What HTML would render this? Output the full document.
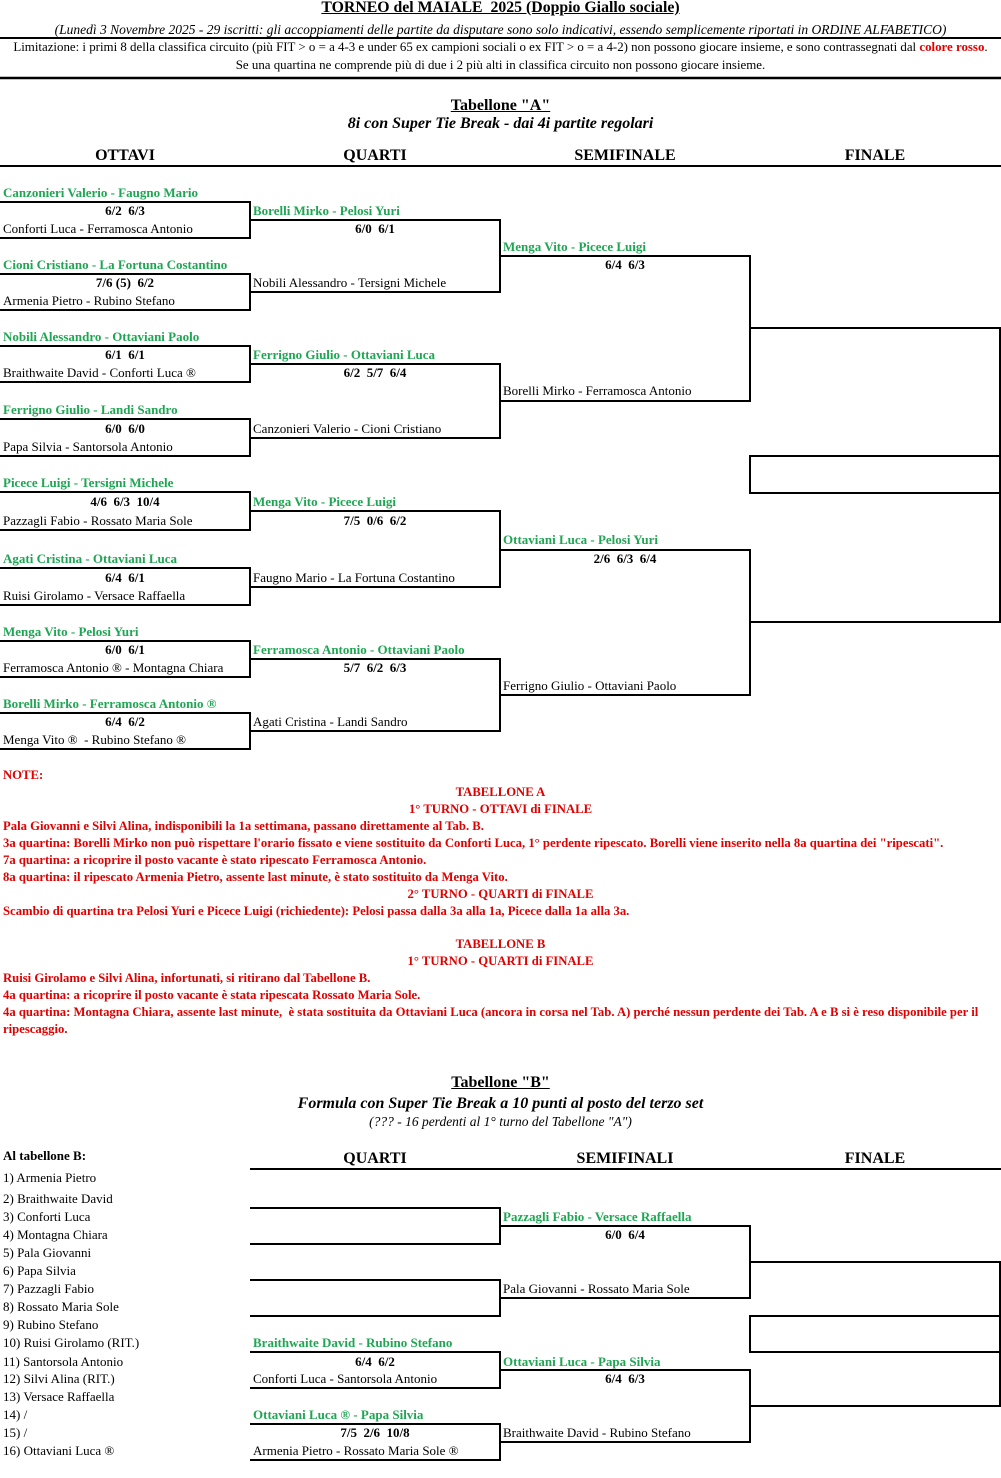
<!DOCTYPE html>
<html><head><meta charset="utf-8"><style>
body{margin:0;background:#fff;}
#p{position:relative;width:1001px;height:1478px;overflow:hidden;font-family:"Liberation Serif",serif;font-size:13px;color:#000;}
.t{position:absolute;white-space:nowrap;line-height:14px;}
.g{color:#1fa653;font-weight:bold;}
.b{font-weight:bold;}
.c{text-align:center;}
.h{font-weight:bold;font-size:16px;text-align:center;line-height:16px;}
.r{color:#e00000;font-weight:bold;font-size:12.7px;}
svg{position:absolute;left:0;top:0;}
</style></head><body><div id="p">
<svg width="1001" height="1478">
<g stroke="#000" stroke-width="2" fill="none">
<line x1="0" y1="38" x2="1001" y2="38"/>
<line x1="0" y1="78" x2="1001" y2="78" stroke-width="2.5"/>
<line x1="0" y1="166" x2="1001" y2="166"/>
<polyline points="0,202 250,202 250,238 0,238"/>
<polyline points="0,274 250,274 250,310 0,310"/>
<polyline points="0,346 250,346 250,382 0,382"/>
<polyline points="0,419 250,419 250,456 0,456"/>
<polyline points="0,492 250,492 250,530 0,530"/>
<polyline points="0,568 250,568 250,605 0,605"/>
<polyline points="0,641 250,641 250,677 0,677"/>
<polyline points="0,713 250,713 250,749 0,749"/>
<polyline points="250,220 500,220 500,292 250,292"/>
<polyline points="250,364 500,364 500,438 250,438"/>
<polyline points="250,511 500,511 500,587 250,587"/>
<polyline points="250,659 500,659 500,731 250,731"/>
<polyline points="500,256 750,256 750,401 500,401"/>
<polyline points="500,550 750,550 750,695 500,695"/>
<polyline points="750,328 1000,328 1000,622 750,622"/>
<rect x="750" y="456" width="250" height="37"/>
<line x1="250" y1="1169" x2="1001" y2="1169"/>
<polyline points="250,1208 500,1208 500,1244 250,1244"/>
<polyline points="250,1280 500,1280 500,1316 250,1316"/>
<polyline points="250,1352 500,1352 500,1388 250,1388"/>
<polyline points="250,1424 500,1424 500,1460 250,1460"/>
<polyline points="500,1226 750,1226 750,1298 500,1298"/>
<polyline points="500,1370 750,1370 750,1442 500,1442"/>
<polyline points="750,1262 1000,1262 1000,1406 750,1406"/>
<rect x="750" y="1316" width="250" height="36"/>
</g></svg>

<div class="t b c" style="left:0;width:1001px;top:0;font-size:15.8px;line-height:16px;"><u>TORNEO del MAIALE&nbsp; 2025 (Doppio Giallo sociale)</u></div>
<div class="t c" style="left:0;width:1001px;top:23px;font-style:italic;font-size:13.5px;">(Lunedì 3 Novembre 2025 - 29 iscritti: gli accoppiamenti delle partite da disputare sono solo indicativi, essendo semplicemente riportati in ORDINE ALFABETICO)</div>
<div class="t c" style="left:0;width:1001px;top:40px;font-size:12.9px;">Limitazione: i primi 8 della classifica circuito (più FIT &gt; o = a 4-3 e under 65 ex campioni sociali o ex FIT &gt; o = a 4-2) non possono giocare insieme, e sono contrassegnati dal <span style="color:#e00000;font-weight:bold">colore rosso</span>.</div>
<div class="t c" style="left:0;width:1001px;top:58px;font-size:12.9px;">Se una quartina ne comprende più di due i 2 più alti in classifica circuito non possono giocare insieme.</div>

<div class="t h" style="left:0;width:1001px;top:98px;"><u>Tabellone "A"</u></div>
<div class="t h" style="left:0;width:1001px;top:116px;font-style:italic;">8i con Super Tie Break - dai 4i partite regolari</div>
<div class="t h" style="left:0;width:250px;top:148px;">OTTAVI</div>
<div class="t h" style="left:250px;width:250px;top:148px;">QUARTI</div>
<div class="t h" style="left:500px;width:250px;top:148px;">SEMIFINALE</div>
<div class="t h" style="left:750px;width:250px;top:148px;">FINALE</div>

<div class="t g" style="left:3px;top:186px">Canzonieri Valerio - Faugno Mario</div>
<div class="t b c" style="left:0;width:250px;top:204px">6/2&nbsp; 6/3</div>
<div class="t" style="left:3px;top:222px">Conforti Luca - Ferramosca Antonio</div>
<div class="t g" style="left:3px;top:258px">Cioni Cristiano - La Fortuna Costantino</div>
<div class="t b c" style="left:0;width:250px;top:276px">7/6 (5)&nbsp; 6/2</div>
<div class="t" style="left:3px;top:294px">Armenia Pietro - Rubino Stefano</div>
<div class="t g" style="left:3px;top:330px">Nobili Alessandro - Ottaviani Paolo</div>
<div class="t b c" style="left:0;width:250px;top:348px">6/1&nbsp; 6/1</div>
<div class="t" style="left:3px;top:366px">Braithwaite David - Conforti Luca ®</div>
<div class="t g" style="left:3px;top:403px">Ferrigno Giulio - Landi Sandro</div>
<div class="t b c" style="left:0;width:250px;top:422px">6/0&nbsp; 6/0</div>
<div class="t" style="left:3px;top:440px">Papa Silvia - Santorsola Antonio</div>
<div class="t g" style="left:3px;top:476px">Picece Luigi - Tersigni Michele</div>
<div class="t b c" style="left:0;width:250px;top:495px">4/6&nbsp; 6/3&nbsp; 10/4</div>
<div class="t" style="left:3px;top:514px">Pazzagli Fabio - Rossato Maria Sole</div>
<div class="t g" style="left:3px;top:552px">Agati Cristina - Ottaviani Luca</div>
<div class="t b c" style="left:0;width:250px;top:571px">6/4&nbsp; 6/1</div>
<div class="t" style="left:3px;top:589px">Ruisi Girolamo - Versace Raffaella</div>
<div class="t g" style="left:3px;top:625px">Menga Vito - Pelosi Yuri</div>
<div class="t b c" style="left:0;width:250px;top:643px">6/0&nbsp; 6/1</div>
<div class="t" style="left:3px;top:661px">Ferramosca Antonio ® - Montagna Chiara</div>
<div class="t g" style="left:3px;top:697px">Borelli Mirko - Ferramosca Antonio ®</div>
<div class="t b c" style="left:0;width:250px;top:715px">6/4&nbsp; 6/2</div>
<div class="t" style="left:3px;top:733px">Menga Vito ®&nbsp; - Rubino Stefano ®</div>

<div class="t g" style="left:253px;top:204px">Borelli Mirko - Pelosi Yuri</div>
<div class="t b c" style="left:250px;width:250px;top:222px">6/0&nbsp; 6/1</div>
<div class="t" style="left:253px;top:276px">Nobili Alessandro - Tersigni Michele</div>
<div class="t g" style="left:253px;top:348px">Ferrigno Giulio - Ottaviani Luca</div>
<div class="t b c" style="left:250px;width:250px;top:366px">6/2&nbsp; 5/7&nbsp; 6/4</div>
<div class="t" style="left:253px;top:422px">Canzonieri Valerio - Cioni Cristiano</div>
<div class="t g" style="left:253px;top:495px">Menga Vito - Picece Luigi</div>
<div class="t b c" style="left:250px;width:250px;top:514px">7/5&nbsp; 0/6&nbsp; 6/2</div>
<div class="t" style="left:253px;top:571px">Faugno Mario - La Fortuna Costantino</div>
<div class="t g" style="left:253px;top:643px">Ferramosca Antonio - Ottaviani Paolo</div>
<div class="t b c" style="left:250px;width:250px;top:661px">5/7&nbsp; 6/2&nbsp; 6/3</div>
<div class="t" style="left:253px;top:715px">Agati Cristina - Landi Sandro</div>

<div class="t g" style="left:503px;top:240px">Menga Vito - Picece Luigi</div>
<div class="t b c" style="left:500px;width:250px;top:258px">6/4&nbsp; 6/3</div>
<div class="t" style="left:503px;top:384px">Borelli Mirko - Ferramosca Antonio</div>
<div class="t g" style="left:503px;top:533px">Ottaviani Luca - Pelosi Yuri</div>
<div class="t b c" style="left:500px;width:250px;top:552px">2/6&nbsp; 6/3&nbsp; 6/4</div>
<div class="t" style="left:503px;top:679px">Ferrigno Giulio - Ottaviani Paolo</div>

<div class="t r" style="left:3px;top:768px">NOTE:</div>
<div class="t r c" style="left:0;width:1001px;top:785px">TABELLONE A</div>
<div class="t r c" style="left:0;width:1001px;top:802px">1° TURNO - OTTAVI di FINALE</div>
<div class="t r" style="left:3px;top:819px">Pala Giovanni e Silvi Alina, indisponibili la 1a settimana, passano direttamente al Tab. B.</div>
<div class="t r" style="left:3px;top:836px">3a quartina: Borelli Mirko non può rispettare l'orario fissato e viene sostituito da Conforti Luca, 1° perdente ripescato. Borelli viene inserito nella 8a quartina dei "ripescati".</div>
<div class="t r" style="left:3px;top:853px">7a quartina: a ricoprire il posto vacante è stato ripescato Ferramosca Antonio.</div>
<div class="t r" style="left:3px;top:870px">8a quartina: il ripescato Armenia Pietro, assente last minute, è stato sostituito da Menga Vito.</div>
<div class="t r c" style="left:0;width:1001px;top:887px">2° TURNO - QUARTI di FINALE</div>
<div class="t r" style="left:3px;top:904px">Scambio di quartina tra Pelosi Yuri e Picece Luigi (richiedente): Pelosi passa dalla 3a alla 1a, Picece dalla 1a alla 3a.</div>
<div class="t r c" style="left:0;width:1001px;top:937px">TABELLONE B</div>
<div class="t r c" style="left:0;width:1001px;top:954px">1° TURNO - QUARTI di FINALE</div>
<div class="t r" style="left:3px;top:971px">Ruisi Girolamo e Silvi Alina, infortunati, si ritirano dal Tabellone B.</div>
<div class="t r" style="left:3px;top:988px">4a quartina: a ricoprire il posto vacante è stata ripescata Rossato Maria Sole.</div>
<div class="t r" style="left:3px;top:1005px">4a quartina: Montagna Chiara, assente last minute,&nbsp; è stata sostituita da Ottaviani Luca (ancora in corsa nel Tab. A) perché nessun perdente dei Tab. A e B si è reso disponibile per il</div>
<div class="t r" style="left:3px;top:1022px">ripescaggio.</div>

<div class="t h" style="left:0;width:1001px;top:1075px;"><u>Tabellone "B"</u></div>
<div class="t h" style="left:0;width:1001px;top:1096px;font-style:italic;">Formula con Super Tie Break a 10 punti al posto del terzo set</div>
<div class="t c" style="left:0;width:1001px;top:1115px;font-style:italic;font-size:13.5px;">(??? - 16 perdenti al 1° turno del Tabellone "A")</div>
<div class="t h" style="left:250px;width:250px;top:1151px;">QUARTI</div>
<div class="t h" style="left:500px;width:250px;top:1151px;">SEMIFINALI</div>
<div class="t h" style="left:750px;width:250px;top:1151px;">FINALE</div>
<div class="t b" style="left:3px;top:1149px">Al tabellone B:</div>
<div class="t" style="left:3px;top:1171px">1) Armenia Pietro</div>
<div class="t" style="left:3px;top:1192px">2) Braithwaite David</div>
<div class="t" style="left:3px;top:1210px">3) Conforti Luca</div>
<div class="t" style="left:3px;top:1228px">4) Montagna Chiara</div>
<div class="t" style="left:3px;top:1246px">5) Pala Giovanni</div>
<div class="t" style="left:3px;top:1264px">6) Papa Silvia</div>
<div class="t" style="left:3px;top:1282px">7) Pazzagli Fabio</div>
<div class="t" style="left:3px;top:1300px">8) Rossato Maria Sole</div>
<div class="t" style="left:3px;top:1318px">9) Rubino Stefano</div>
<div class="t" style="left:3px;top:1336px">10) Ruisi Girolamo (RIT.)</div>
<div class="t" style="left:3px;top:1355px">11) Santorsola Antonio</div>
<div class="t" style="left:3px;top:1372px">12) Silvi Alina (RIT.)</div>
<div class="t" style="left:3px;top:1390px">13) Versace Raffaella</div>
<div class="t" style="left:3px;top:1408px">14) /</div>
<div class="t" style="left:3px;top:1426px">15) /</div>
<div class="t" style="left:3px;top:1444px">16) Ottaviani Luca ®</div>

<div class="t g" style="left:253px;top:1336px">Braithwaite David - Rubino Stefano</div>
<div class="t b c" style="left:250px;width:250px;top:1355px">6/4&nbsp; 6/2</div>
<div class="t" style="left:253px;top:1372px">Conforti Luca - Santorsola Antonio</div>
<div class="t g" style="left:253px;top:1408px">Ottaviani Luca ® - Papa Silvia</div>
<div class="t b c" style="left:250px;width:250px;top:1426px">7/5&nbsp; 2/6&nbsp; 10/8</div>
<div class="t" style="left:253px;top:1444px">Armenia Pietro - Rossato Maria Sole ®</div>

<div class="t g" style="left:503px;top:1210px">Pazzagli Fabio - Versace Raffaella</div>
<div class="t b c" style="left:500px;width:250px;top:1228px">6/0&nbsp; 6/4</div>
<div class="t" style="left:503px;top:1282px">Pala Giovanni - Rossato Maria Sole</div>
<div class="t g" style="left:503px;top:1355px">Ottaviani Luca - Papa Silvia</div>
<div class="t b c" style="left:500px;width:250px;top:1372px">6/4&nbsp; 6/3</div>
<div class="t" style="left:503px;top:1426px">Braithwaite David - Rubino Stefano</div>
</div></body></html>
